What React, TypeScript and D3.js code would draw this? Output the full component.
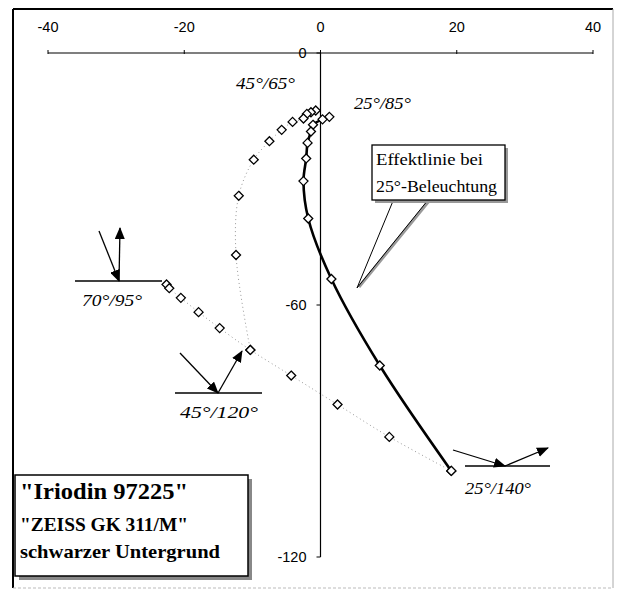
import React from "react";
import * as d3 from "d3";

const xTicks = [-40, -20, 0, 20, 40];
const yTicks = [0, -60, -120];

// 25° illumination (Effektlinie) – solid
const s25x = [1.3, 0.3, -1.1, -1.4, -1.9, -2.1, -2.5, -1.8, 1.6, 8.7, 19.2];
const s25y = [-15.2, -15.8, -17.1, -18.7, -21.4, -25.1, -30.5, -39.4, -53.8, -74.4, -99.5];

// 45° illumination – dotted
const s45x = [-0.7, -1.4, -2.0, -2.5, -4.1, -5.7, -7.5, -9.8, -12.0, -12.4, -10.3];
const s45y = [-13.7, -14.1, -14.5, -15.6, -16.4, -18.3, -21.0, -25.4, -34.0, -48.1, -70.7];

// 70° illumination – dotted
const s70x = [-22.6, -22.2, -20.5, -17.9, -14.8, -10.3, -4.3, 2.5, 10.1, 19.2];
const s70y = [-55.1, -56.0, -58.3, -61.7, -65.5, -70.7, -76.8, -83.7, -91.4, -99.5];

const legendLines = ['"Iriodin 97225"', '"ZEISS GK 311/M"', "schwarzer Untergrund"];
const calloutLines = ["Effektlinie bei", "25°-Beleuchtung"];

export default function App() {
  const W = 622, H = 589;
  const x = d3.scaleLinear().domain([-40, 40]).range([48, 593]);
  const y = d3.scaleLinear().domain([0, -120]).range([53, 557]);

  const pts = (xs: number[], ys: number[]) => xs.map((v, i) => [x(v), y(ys[i])] as [number, number]);
  const p25 = pts(s25x, s25y);
  const p45 = pts(s45x, s45y);
  const p70 = pts(s70x, s70y);
  const line = d3.line().curve(d3.curveCatmullRom.alpha(0.5));

  const diamond = (p: [number, number], k: string) => (
    <path key={k} d={`M${p[0]},${p[1] - 4.5}L${p[0] + 4.5},${p[1]}L${p[0]},${p[1] + 4.5}L${p[0] - 4.5},${p[1]}Z`}
      fill="white" stroke="black" strokeWidth={1.3} />
  );

  const sans = "'Liberation Sans', Arial, sans-serif";
  const serif = "'Liberation Serif', 'Times New Roman', serif";

  const italicLabel = (t: string, px: number, py: number, w: number) => (
    <text x={px} y={py} fontFamily={serif} fontStyle="italic" fontSize={17} fill="black"
      textLength={w} lengthAdjust="spacingAndGlyphs">{t}</text>
  );

  // illumination symbol: horizontal surface, incident arrow, reflected arrow
  const symbol = (k: string, hx1: number, hx2: number, hy: number, ix: number, iy: number, cx: number, rx: number, ry: number) => (
    <g key={k}>
      <line x1={hx1} y1={hy} x2={hx2} y2={hy} stroke="black" strokeWidth={1.5} />
      <line x1={ix} y1={iy} x2={cx} y2={hy} stroke="black" strokeWidth={1.3} markerEnd="url(#arr)" />
      <line x1={cx} y1={hy} x2={rx} y2={ry} stroke="black" strokeWidth={1.3} markerEnd="url(#arr)" />
    </g>
  );

  return (
    <svg width={W} height={H} style={{ position: "absolute", left: 0, top: 0, background: "white" }}>
      <defs>
        <marker id="arr" viewBox="0 0 12 10" refX="11" refY="5" markerWidth="12" markerHeight="10"
          markerUnits="userSpaceOnUse" orient="auto">
          <path d="M0,0L12,5L0,10Z" fill="black" />
        </marker>
      </defs>
      <rect x={0} y={0} width={W} height={H} fill="white" />
      {/* outer frame */}
      <line x1={13} y1={9} x2={613} y2={9} stroke="black" strokeWidth={2} />
      <line x1={13} y1={9} x2={13} y2={588} stroke="black" strokeWidth={2} />
      <line x1={613} y1={9} x2={613} y2={588} stroke="#aaa" strokeWidth={1} />
      <line x1={13} y1={588} x2={613} y2={588} stroke="#bbb" strokeWidth={1} strokeDasharray="3,2" />

      {/* x axis */}
      <line x1={x(-40)} y1={y(0)} x2={x(40)} y2={y(0)} stroke="black" strokeWidth={1.2} />
      {xTicks.map(t => (
        <g key={"xt" + t}>
          <line x1={x(t)} y1={y(0) - 3} x2={x(t)} y2={y(0) + 1} stroke="black" strokeWidth={1} />
          <text x={x(t)} y={32} textAnchor="middle" fontFamily={sans} fontSize={14.5} fill="black">{t}</text>
        </g>
      ))}
      {/* y axis */}
      <line x1={x(0)} y1={y(0)} x2={x(0)} y2={y(-120)} stroke="black" strokeWidth={1.2} />
      {yTicks.map(t => (
        <g key={"yt" + t}>
          <line x1={x(0) - 4} y1={y(t)} x2={x(0)} y2={y(t)} stroke="black" strokeWidth={1} />
          <text x={x(0) - 14} y={y(t) + 5} textAnchor="end" fontFamily={sans} fontSize={14.5} fill="black">{t}</text>
        </g>
      ))}

      {/* dotted series */}
      <path d={line(p45) || ""} fill="none" stroke="#999" strokeWidth={1} strokeDasharray="1,3" />
      <path d={line(p70) || ""} fill="none" stroke="#999" strokeWidth={1} strokeDasharray="1,3" />
      {/* solid effect line */}
      <path d={line(p25) || ""} fill="none" stroke="black" strokeWidth={2.6} />

      {p45.map((p, i) => diamond(p, "a" + i))}
      {p70.map((p, i) => diamond(p, "b" + i))}
      {p25.map((p, i) => diamond(p, "c" + i))}

      {/* angle labels */}
      {italicLabel("45°/65°", 236, 89, 59)}
      {italicLabel("25°/85°", 354, 109, 57)}
      {italicLabel("70°/95°", 82, 306, 60)}
      {italicLabel("45°/120°", 180, 418, 78)}
      {italicLabel("25°/140°", 465, 494, 66)}

      {symbol("s70", 75, 162, 281, 99, 231, 119, 120, 228)}
      {symbol("s45", 175, 262, 393, 180, 353, 218, 242, 351)}
      {symbol("s25", 465, 550, 466, 453, 450, 505, 548, 448)}

      {/* callout */}
      <line x1={429} y1={201} x2={359} y2={287} stroke="#999" strokeWidth={3} />
      <line x1={428} y1={200} x2={357} y2={288} stroke="black" strokeWidth={1} />
      <line x1={393} y1={201} x2={357} y2={288} stroke="black" strokeWidth={1} />
      <rect x={375} y={148} width={133} height={55} fill="#999" />
      <rect x={372} y={145} width={133} height={55} fill="white" stroke="black" strokeWidth={1.3} />
      <text x={376} y={165} fontFamily={serif} fontSize={16} fill="black" textLength={107} lengthAdjust="spacingAndGlyphs">{calloutLines[0]}</text>
      <text x={376} y={192} fontFamily={serif} fontSize={16} fill="black" textLength={121} lengthAdjust="spacingAndGlyphs">{calloutLines[1]}</text>

      {/* legend box */}
      <rect x={19} y={479} width={233} height={101} fill="#888" />
      <rect x={15} y={475} width={233} height={101} fill="white" stroke="black" strokeWidth={1.5} />
      <text x={20} y={499} fontFamily={serif} fontSize={24} fontWeight="bold" fill="black" textLength={168} lengthAdjust="spacingAndGlyphs">{legendLines[0]}</text>
      <text x={20} y={531} fontFamily={serif} fontSize={19} fontWeight="bold" fill="black" textLength={168} lengthAdjust="spacingAndGlyphs">{legendLines[1]}</text>
      <text x={20} y={558} fontFamily={serif} fontSize={19} fontWeight="bold" fill="black" textLength={200} lengthAdjust="spacingAndGlyphs">{legendLines[2]}</text>
    </svg>
  );
}
